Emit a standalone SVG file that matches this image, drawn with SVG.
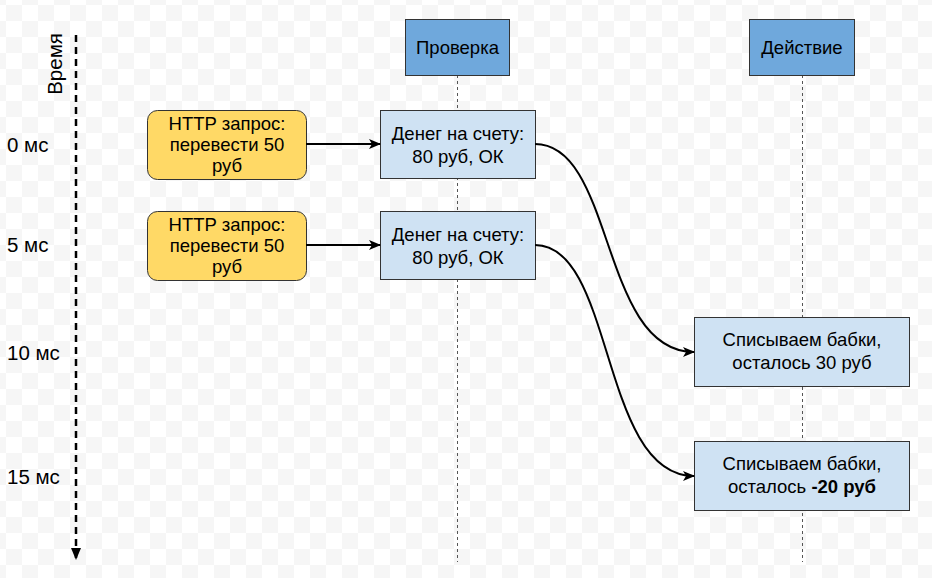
<svg xmlns="http://www.w3.org/2000/svg" width="932" height="578" viewBox="0 0 932 578">
<defs>
<pattern id="checker" patternUnits="userSpaceOnUse" x="6" y="5" width="32" height="32">
<rect width="32" height="32" fill="#ffffff"/>
<rect width="16" height="16" fill="#f6f6f6"/>
<rect x="16" y="16" width="16" height="16" fill="#f6f6f6"/>
</pattern>
<marker id="arr" markerWidth="12" markerHeight="10" refX="11" refY="5" orient="auto" markerUnits="userSpaceOnUse">
<path d="M0,0 L12,5 L0,10 L3,5 Z" fill="#000"/>
</marker>
<marker id="tarr" markerWidth="10" markerHeight="12" refX="5" refY="12" orient="0" markerUnits="userSpaceOnUse">
<path d="M0,0 L10,0 L5,12 Z" fill="#000"/>
</marker>
</defs>
<style>
text{font-family:"Liberation Sans",Arial,sans-serif;font-size:18.5px;fill:#000}
.t{font-size:20.5px}
.mid{text-anchor:middle}
.head{fill:#6fa8dc;stroke:#333;stroke-width:1}
.req{fill:#ffd966;stroke:#333;stroke-width:1}
.box{fill:#cfe2f3;stroke:#333;stroke-width:1}
.life{stroke:#555;stroke-width:1;stroke-dasharray:3 3;fill:none}
.conn{stroke:#000;stroke-width:2;fill:none}
</style>
<rect width="932" height="578" fill="url(#checker)"/>

<g id="time-axis">
<line x1="76" y1="35" x2="76" y2="560" stroke="#000" stroke-width="2.5" stroke-dasharray="7 5" marker-end="url(#tarr)"/>
<text class="t mid" transform="translate(62,64) rotate(-90)">Время</text>
<text class="t" x="7" y="152">0 мс</text>
<text class="t" x="7" y="252">5 мс</text>
<text class="t" x="7" y="360">10 мс</text>
<text class="t" x="7" y="484">15 мс</text>
</g>

<g id="lifelines">
<line class="life" x1="457.5" y1="75" x2="457.5" y2="562"/>
<line class="life" x1="802.5" y1="75" x2="802.5" y2="562"/>
</g>

<g id="proverka">
<rect class="head" x="405.5" y="19.5" width="104" height="56"/>
<text class="mid" x="457.5" y="54">Проверка</text>
</g>
<g id="deystvie">
<rect class="head" x="749.5" y="19.5" width="105" height="56"/>
<text class="mid" x="802" y="54">Действие</text>
</g>

<g id="req1">
<rect class="req" x="147.5" y="110.5" width="159" height="69" rx="10"/>
<text class="mid" x="227" y="130">HTTP запрос:</text>
<text class="mid" x="227" y="151">перевести 50</text>
<text class="mid" x="227" y="172">руб</text>
</g>
<g id="req2">
<rect class="req" x="147.5" y="211.5" width="159" height="69" rx="10"/>
<text class="mid" x="227" y="231">HTTP запрос:</text>
<text class="mid" x="227" y="252">перевести 50</text>
<text class="mid" x="227" y="273">руб</text>
</g>

<g id="check1">
<rect class="box" x="380.5" y="110.5" width="155" height="68"/>
<text class="mid" x="458" y="140">Денег на счету:</text>
<text class="mid" x="458" y="163">80 руб, ОК</text>
</g>
<g id="check2">
<rect class="box" x="380.5" y="211.5" width="155" height="68"/>
<text class="mid" x="458" y="241">Денег на счету:</text>
<text class="mid" x="458" y="264">80 руб, ОК</text>
</g>

<g id="act1">
<rect class="box" x="694.5" y="317.5" width="215" height="69"/>
<text class="mid" x="802" y="346">Списываем бабки,</text>
<text class="mid" x="802" y="369">осталось 30 руб</text>
</g>
<g id="act2">
<rect class="box" x="694.5" y="441.5" width="215" height="69"/>
<text class="mid" x="802" y="470">Списываем бабки,</text>
<text class="mid" x="802" y="493">осталось <tspan font-weight="bold">-20 руб</tspan></text>
</g>

<g id="connectors">
<line class="conn" x1="306" y1="144" x2="380" y2="144" marker-end="url(#arr)"/>
<line class="conn" x1="306" y1="245" x2="380" y2="245" marker-end="url(#arr)"/>
<path class="conn" d="M535,144 C615,144 600,352 694,352" marker-end="url(#arr)"/>
<path class="conn" d="M535,245 C615,245 600,476 694,476" marker-end="url(#arr)"/>
</g>
</svg>
